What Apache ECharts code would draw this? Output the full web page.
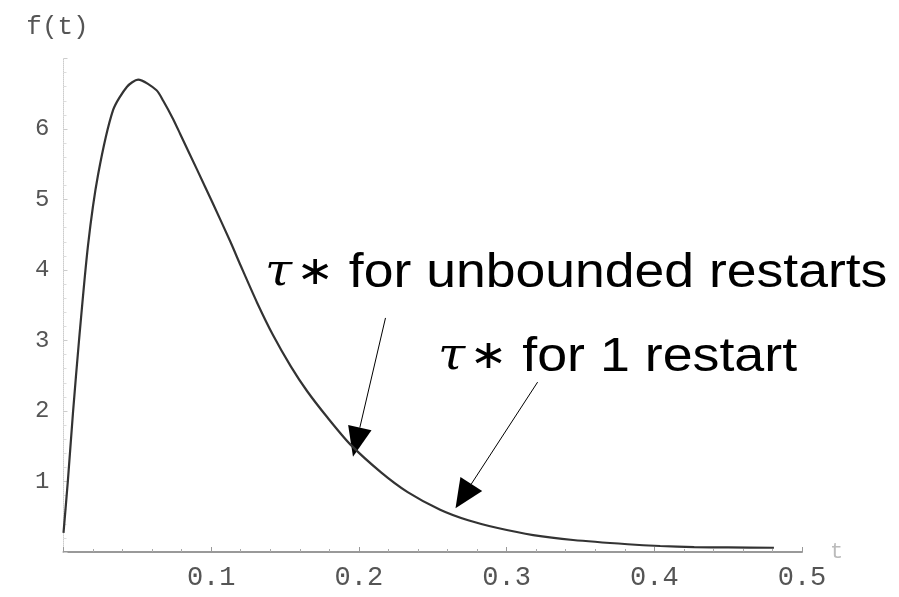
<!DOCTYPE html>
<html>
<head>
<meta charset="utf-8">
<script src="https://cdn.jsdelivr.net/npm/echarts@6/dist/echarts.min.js"></script>
<style>
html, body { margin: 0; padding: 0; background: #fff; }
#main { width: 899px; height: 597px; }
</style>
</head>
<body>
<div id="main"></div>
<script>
// values
var tValues = [0, 0.003, 0.0064, 0.0105, 0.0166, 0.0234, 0.0336, 0.043, 0.0505,
  0.063, 0.0675, 0.074, 0.079, 0.0905, 0.101, 0.113, 0.120, 0.131, 0.142,
  0.154, 0.165, 0.179, 0.194, 0.215, 0.233, 0.255, 0.274, 0.294, 0.318,
  0.345, 0.382, 0.404, 0.427, 0.45, 0.481];
var fValues = [0.27, 1.02, 1.97, 3.0, 4.35, 5.35, 6.27, 6.6, 6.70,
  6.55, 6.40, 6.15, 5.93, 5.42, 4.95, 4.40, 4.06, 3.54, 3.07,
  2.63, 2.28, 1.90, 1.53, 1.13, 0.85, 0.60, 0.45, 0.34, 0.24,
  0.17, 0.11, 0.085, 0.07, 0.065, 0.06];
var xTicks = [0.1, 0.2, 0.3, 0.4, 0.5];
var yTicks = [1, 2, 3, 4, 5, 6];
// arrows: [start, tip] in data units
var arrowUnbounded = [[0.218, 3.32], [0.196, 1.35]];
var arrowOne = [[0.321, 2.41], [0.2654, 0.62]];

var curve = [];
for (var i = 0; i < tValues.length; i++) {
  curve.push([tValues[i], fValues[i]]);
}

function hasTick(list, v) {
  for (var k = 0; k < list.length; k++) {
    if (Math.abs(list[k] - v) < 1e-6) return true;
  }
  return false;
}

var monoFont = 'Liberation Mono';
var myChart = echarts.init(document.getElementById('main'));

var option = {
  backgroundColor: '#fff',
  animation: false,
  grid: { left: 63.5, right: 97, top: 58.5, bottom: 45 },
  xAxis: {
    type: 'value',
    min: 0,
    max: 0.5,
    interval: 0.1,
    name: 't',
    nameGap: 28,
    nameTextStyle: { color: '#bbb', fontFamily: monoFont, fontSize: 22, verticalAlign: 'middle' },
    axisLine: { lineStyle: { color: '#999', width: 2 } },
    axisTick: { show: true, inside: true, length: 5, lineStyle: { color: '#999' } },
    minorTick: { show: true, splitNumber: 5, length: 3, lineStyle: { color: '#aaa' } },
    splitLine: { show: false },
    axisLabel: {
      color: '#555',
      fontFamily: monoFont,
      fontSize: 27,
      margin: 12,
      formatter: function (v) { return hasTick(xTicks, v) ? v.toFixed(1) : ''; }
    }
  },
  yAxis: {
    type: 'value',
    min: 0,
    max: 7,
    interval: 1,
    name: 'f(t)',
    nameGap: 18,
    nameTextStyle: { color: '#555', fontFamily: monoFont, fontSize: 26, padding: [0, 12, 0, 0] },
    axisLine: { show: true, lineStyle: { color: '#ccc', type: 'dotted', width: 1 } },
    axisTick: { show: true, inside: true, length: 4, lineStyle: { color: '#ccc' } },
    minorTick: { show: true, splitNumber: 5, length: 3, lineStyle: { color: '#ddd' } },
    splitLine: { show: false },
    axisLabel: {
      color: '#555',
      fontFamily: monoFont,
      fontSize: 24,
      margin: 14,
      formatter: function (v) { return hasTick(yTicks, v) ? String(v) : ''; }
    }
  },
  series: [{
    type: 'line',
    data: curve,
    smooth: 0.25,
    showSymbol: false,
    lineStyle: { color: '#333', width: 2.2 }
  }]
};

myChart.setOption(option);

// arrows drawn from the data positions, tip exactly on the curve
function arrowGraphics(pair, headLen, headHalf) {
  var p0 = myChart.convertToPixel({ gridIndex: 0 }, pair[0]);
  var p1 = myChart.convertToPixel({ gridIndex: 0 }, pair[1]);
  var dx = p1[0] - p0[0], dy = p1[1] - p0[1];
  var len = Math.sqrt(dx * dx + dy * dy);
  var ux = dx / len, uy = dy / len;
  var bx = p1[0] - ux * headLen, by = p1[1] - uy * headLen;
  return [
    { type: 'line', shape: { x1: p0[0], y1: p0[1], x2: bx, y2: by }, style: { stroke: '#000', lineWidth: 1 } },
    { type: 'polygon', shape: { points: [[p1[0], p1[1]], [bx - uy * headHalf, by + ux * headHalf], [bx + uy * headHalf, by - ux * headHalf]] }, style: { fill: '#000' } }
  ];
}

var labelRich = {
  g: { fontFamily: 'DejaVu Serif', fontStyle: 'italic', fontSize: 44 },
  s: { fontFamily: 'DejaVu Sans', fontSize: 40, padding: [0, 0, 0, 4] }
};

var graphics = [
  {
    type: 'text',
    x: 265,
    y: 250,
    scaleX: 1.115,
    style: {
      text: '{g|τ}{s|∗} for unbounded restarts',
      fill: '#000',
      font: '48px "Liberation Sans"',
      rich: labelRich
    }
  },
  {
    type: 'text',
    x: 438,
    y: 334,
    scaleX: 1.12,
    style: {
      text: '{g|τ}{s|∗} for 1 restart',
      fill: '#000',
      font: '48px "Liberation Sans"',
      rich: labelRich
    }
  }
].concat(arrowGraphics(arrowUnbounded, 30, 12), arrowGraphics(arrowOne, 29, 13));

myChart.setOption({ graphic: graphics });
</script>
</body>
</html>
